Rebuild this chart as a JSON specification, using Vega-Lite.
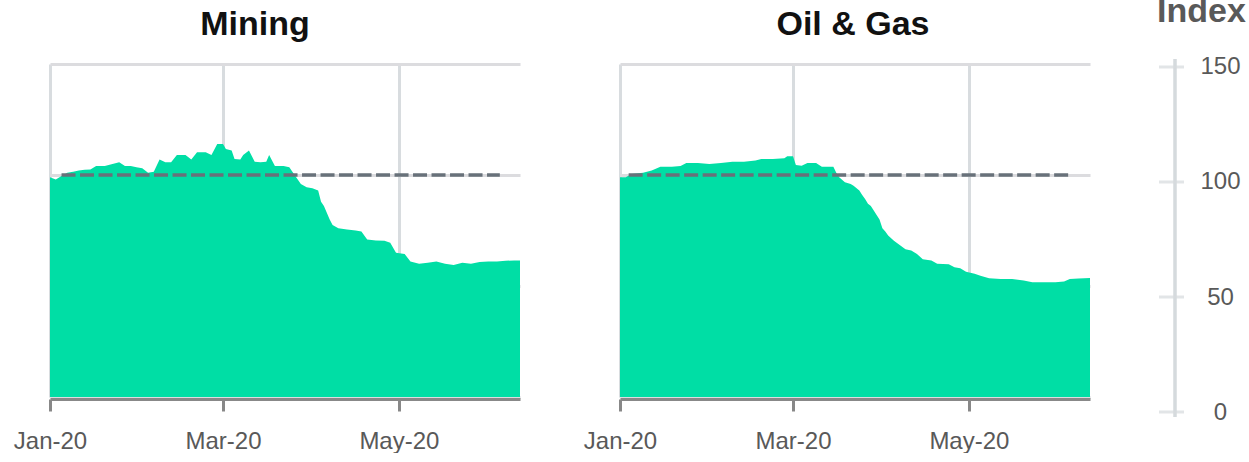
{
  "$schema": "https://vega.github.io/schema/vega-lite/v6.json",
  "background": "white",
  "padding": {"left": 13, "top": -6, "right": 0, "bottom": 0},
  "bounds": "flush",
  "spacing": 100,
  "config": {
    "view": {"stroke": null},
    "font": "Liberation Sans"
  },
  "datasets": {
    "series": [
      {"sector": "Mining", "date": "2020-01-01", "index": 99},
      {"sector": "Mining", "date": "2020-01-03", "index": 98},
      {"sector": "Mining", "date": "2020-01-05", "index": 99.5},
      {"sector": "Mining", "date": "2020-01-07", "index": 101},
      {"sector": "Mining", "date": "2020-01-09", "index": 101.5},
      {"sector": "Mining", "date": "2020-01-11", "index": 102},
      {"sector": "Mining", "date": "2020-01-13", "index": 102.4},
      {"sector": "Mining", "date": "2020-01-15", "index": 102.5},
      {"sector": "Mining", "date": "2020-01-17", "index": 104},
      {"sector": "Mining", "date": "2020-01-20", "index": 104},
      {"sector": "Mining", "date": "2020-01-22", "index": 104.7},
      {"sector": "Mining", "date": "2020-01-25", "index": 105.7},
      {"sector": "Mining", "date": "2020-01-27", "index": 104},
      {"sector": "Mining", "date": "2020-01-29", "index": 104},
      {"sector": "Mining", "date": "2020-01-31", "index": 103.5},
      {"sector": "Mining", "date": "2020-02-02", "index": 103},
      {"sector": "Mining", "date": "2020-02-04", "index": 101},
      {"sector": "Mining", "date": "2020-02-06", "index": 101.5},
      {"sector": "Mining", "date": "2020-02-08", "index": 107},
      {"sector": "Mining", "date": "2020-02-10", "index": 105.7},
      {"sector": "Mining", "date": "2020-02-12", "index": 105.7},
      {"sector": "Mining", "date": "2020-02-14", "index": 109},
      {"sector": "Mining", "date": "2020-02-17", "index": 109},
      {"sector": "Mining", "date": "2020-02-19", "index": 107},
      {"sector": "Mining", "date": "2020-02-21", "index": 110.2},
      {"sector": "Mining", "date": "2020-02-24", "index": 110.2},
      {"sector": "Mining", "date": "2020-02-26", "index": 109},
      {"sector": "Mining", "date": "2020-02-28", "index": 114},
      {"sector": "Mining", "date": "2020-03-01", "index": 114},
      {"sector": "Mining", "date": "2020-03-02", "index": 111.7},
      {"sector": "Mining", "date": "2020-03-04", "index": 111},
      {"sector": "Mining", "date": "2020-03-05", "index": 107.2},
      {"sector": "Mining", "date": "2020-03-07", "index": 107},
      {"sector": "Mining", "date": "2020-03-08", "index": 109},
      {"sector": "Mining", "date": "2020-03-10", "index": 111},
      {"sector": "Mining", "date": "2020-03-12", "index": 106},
      {"sector": "Mining", "date": "2020-03-14", "index": 105.7},
      {"sector": "Mining", "date": "2020-03-16", "index": 106},
      {"sector": "Mining", "date": "2020-03-17", "index": 109},
      {"sector": "Mining", "date": "2020-03-19", "index": 104},
      {"sector": "Mining", "date": "2020-03-22", "index": 104},
      {"sector": "Mining", "date": "2020-03-24", "index": 103.5},
      {"sector": "Mining", "date": "2020-03-26", "index": 99.7},
      {"sector": "Mining", "date": "2020-03-28", "index": 96},
      {"sector": "Mining", "date": "2020-03-30", "index": 94.5},
      {"sector": "Mining", "date": "2020-04-01", "index": 94},
      {"sector": "Mining", "date": "2020-04-03", "index": 93},
      {"sector": "Mining", "date": "2020-04-04", "index": 88},
      {"sector": "Mining", "date": "2020-04-05", "index": 86},
      {"sector": "Mining", "date": "2020-04-06", "index": 83},
      {"sector": "Mining", "date": "2020-04-07", "index": 80},
      {"sector": "Mining", "date": "2020-04-08", "index": 77.5},
      {"sector": "Mining", "date": "2020-04-10", "index": 76},
      {"sector": "Mining", "date": "2020-04-13", "index": 75.5},
      {"sector": "Mining", "date": "2020-04-16", "index": 75},
      {"sector": "Mining", "date": "2020-04-18", "index": 74.5},
      {"sector": "Mining", "date": "2020-04-20", "index": 71},
      {"sector": "Mining", "date": "2020-04-23", "index": 70.5},
      {"sector": "Mining", "date": "2020-04-26", "index": 70.4},
      {"sector": "Mining", "date": "2020-04-28", "index": 69.5},
      {"sector": "Mining", "date": "2020-04-30", "index": 65},
      {"sector": "Mining", "date": "2020-05-03", "index": 64.4},
      {"sector": "Mining", "date": "2020-05-05", "index": 61},
      {"sector": "Mining", "date": "2020-05-08", "index": 60},
      {"sector": "Mining", "date": "2020-05-11", "index": 60.5},
      {"sector": "Mining", "date": "2020-05-14", "index": 61},
      {"sector": "Mining", "date": "2020-05-17", "index": 60},
      {"sector": "Mining", "date": "2020-05-20", "index": 59.5},
      {"sector": "Mining", "date": "2020-05-23", "index": 60.5},
      {"sector": "Mining", "date": "2020-05-26", "index": 60},
      {"sector": "Mining", "date": "2020-05-29", "index": 60.8},
      {"sector": "Mining", "date": "2020-06-01", "index": 61},
      {"sector": "Mining", "date": "2020-06-04", "index": 61},
      {"sector": "Mining", "date": "2020-06-07", "index": 61.4},
      {"sector": "Mining", "date": "2020-06-10", "index": 61.5},
      {"sector": "Mining", "date": "2020-06-12", "index": 61.5},
      {"sector": "Oil & Gas", "date": "2020-01-01", "index": 99},
      {"sector": "Oil & Gas", "date": "2020-01-03", "index": 99},
      {"sector": "Oil & Gas", "date": "2020-01-05", "index": 100.5},
      {"sector": "Oil & Gas", "date": "2020-01-09", "index": 101},
      {"sector": "Oil & Gas", "date": "2020-01-12", "index": 102},
      {"sector": "Oil & Gas", "date": "2020-01-15", "index": 103.7},
      {"sector": "Oil & Gas", "date": "2020-01-19", "index": 103.7},
      {"sector": "Oil & Gas", "date": "2020-01-22", "index": 104},
      {"sector": "Oil & Gas", "date": "2020-01-24", "index": 105.4},
      {"sector": "Oil & Gas", "date": "2020-01-28", "index": 105.4},
      {"sector": "Oil & Gas", "date": "2020-02-01", "index": 105},
      {"sector": "Oil & Gas", "date": "2020-02-05", "index": 105.4},
      {"sector": "Oil & Gas", "date": "2020-02-09", "index": 106},
      {"sector": "Oil & Gas", "date": "2020-02-13", "index": 106},
      {"sector": "Oil & Gas", "date": "2020-02-17", "index": 106.5},
      {"sector": "Oil & Gas", "date": "2020-02-19", "index": 107.2},
      {"sector": "Oil & Gas", "date": "2020-02-23", "index": 107.2},
      {"sector": "Oil & Gas", "date": "2020-02-27", "index": 107.5},
      {"sector": "Oil & Gas", "date": "2020-02-28", "index": 108.5},
      {"sector": "Oil & Gas", "date": "2020-03-01", "index": 108.5},
      {"sector": "Oil & Gas", "date": "2020-03-02", "index": 104.5},
      {"sector": "Oil & Gas", "date": "2020-03-04", "index": 104.2},
      {"sector": "Oil & Gas", "date": "2020-03-06", "index": 105.4},
      {"sector": "Oil & Gas", "date": "2020-03-09", "index": 105.4},
      {"sector": "Oil & Gas", "date": "2020-03-11", "index": 103.7},
      {"sector": "Oil & Gas", "date": "2020-03-15", "index": 103.7},
      {"sector": "Oil & Gas", "date": "2020-03-16", "index": 101},
      {"sector": "Oil & Gas", "date": "2020-03-17", "index": 99},
      {"sector": "Oil & Gas", "date": "2020-03-19", "index": 96.7},
      {"sector": "Oil & Gas", "date": "2020-03-21", "index": 96},
      {"sector": "Oil & Gas", "date": "2020-03-22", "index": 95.2},
      {"sector": "Oil & Gas", "date": "2020-03-24", "index": 93},
      {"sector": "Oil & Gas", "date": "2020-03-25", "index": 91},
      {"sector": "Oil & Gas", "date": "2020-03-26", "index": 89.2},
      {"sector": "Oil & Gas", "date": "2020-03-27", "index": 87},
      {"sector": "Oil & Gas", "date": "2020-03-28", "index": 86},
      {"sector": "Oil & Gas", "date": "2020-03-29", "index": 84},
      {"sector": "Oil & Gas", "date": "2020-03-30", "index": 82},
      {"sector": "Oil & Gas", "date": "2020-03-31", "index": 80},
      {"sector": "Oil & Gas", "date": "2020-04-01", "index": 76},
      {"sector": "Oil & Gas", "date": "2020-04-02", "index": 74.5},
      {"sector": "Oil & Gas", "date": "2020-04-03", "index": 72.7},
      {"sector": "Oil & Gas", "date": "2020-04-05", "index": 70.4},
      {"sector": "Oil & Gas", "date": "2020-04-07", "index": 68.5},
      {"sector": "Oil & Gas", "date": "2020-04-09", "index": 66.5},
      {"sector": "Oil & Gas", "date": "2020-04-11", "index": 66},
      {"sector": "Oil & Gas", "date": "2020-04-13", "index": 64.4},
      {"sector": "Oil & Gas", "date": "2020-04-15", "index": 62},
      {"sector": "Oil & Gas", "date": "2020-04-18", "index": 61.5},
      {"sector": "Oil & Gas", "date": "2020-04-20", "index": 60},
      {"sector": "Oil & Gas", "date": "2020-04-24", "index": 59.8},
      {"sector": "Oil & Gas", "date": "2020-04-26", "index": 58.4},
      {"sector": "Oil & Gas", "date": "2020-04-28", "index": 58},
      {"sector": "Oil & Gas", "date": "2020-04-30", "index": 56.4},
      {"sector": "Oil & Gas", "date": "2020-05-03", "index": 55.5},
      {"sector": "Oil & Gas", "date": "2020-05-05", "index": 54.6},
      {"sector": "Oil & Gas", "date": "2020-05-08", "index": 53.5},
      {"sector": "Oil & Gas", "date": "2020-05-12", "index": 53.2},
      {"sector": "Oil & Gas", "date": "2020-05-16", "index": 53.2},
      {"sector": "Oil & Gas", "date": "2020-05-20", "index": 52.5},
      {"sector": "Oil & Gas", "date": "2020-05-23", "index": 51.7},
      {"sector": "Oil & Gas", "date": "2020-05-27", "index": 51.7},
      {"sector": "Oil & Gas", "date": "2020-05-31", "index": 51.7},
      {"sector": "Oil & Gas", "date": "2020-06-03", "index": 52},
      {"sector": "Oil & Gas", "date": "2020-06-05", "index": 53.2},
      {"sector": "Oil & Gas", "date": "2020-06-08", "index": 53.4},
      {"sector": "Oil & Gas", "date": "2020-06-12", "index": 53.6}
    ],
    "refline": [
      {"sector": "Mining", "start": "2020-01-05", "end": "2020-06-05", "level": 100},
      {"sector": "Oil & Gas", "start": "2020-01-04", "end": "2020-06-05", "level": 100}
    ],
    "axisline": [{"lo": -2.17, "hi": 153.5}],
    "axisticks": [{"v": 0}, {"v": 50}, {"v": 100}, {"v": 150}]
  },
  "hconcat": [
    {
      "width": 470,
      "height": 333,
      "title": {"text": "Mining", "fontSize": 34, "fontWeight": "bold", "color": "#111111", "baseline": "alphabetic", "offset": -5, "dx": -30, "anchor": "middle", "frame": "group"},
      "layer": [
        {
          "data": {"name": "series"},
          "transform": [{"filter": "datum.sector === 'Mining'"}],
          "mark": {"type": "area", "color": "#00dea5"},
          "encoding": {
            "x": {"field": "date", "type": "temporal",
              "scale": {"type": "utc", "domain": ["2020-01-01", "2020-06-12"]},
              "axis": {"values": ["2020-01-01", "2020-03-01", "2020-05-01"],
                "format": "%b-%y", "title": null, "labelFontSize": 24, "labelColor": "#595959", "labelPadding": 18, "labelFlush": false, "labelOverlap": false,
                "offset": 2, "tickSize": 12, "tickColor": "#888888", "tickWidth": 3, "domainColor": "#888888", "domainWidth": 3,
                "grid": true, "gridColor": "#d8dcdf", "gridWidth": 3}},
            "y": {"field": "index", "type": "quantitative",
              "scale": {"domain": [0, 150], "nice": false},
              "axis": {"values": [0, 50, 100, 150], "grid": true, "gridColor": "#dcdcdf", "gridWidth": 3, "domain": false, "ticks": false, "labels": false, "title": null}}
          }
        },
        {
          "data": {"name": "refline"},
          "transform": [{"filter": "datum.sector === 'Mining'"}],
          "mark": {"type": "rule", "color": "#68717a", "strokeWidth": 3.5, "strokeDash": [14, 4.5]},
          "encoding": {
            "x": {"field": "start", "type": "temporal"},
            "x2": {"field": "end"},
            "y": {"field": "level", "type": "quantitative"}
          }
        }
      ]
    },
    {
      "width": 470,
      "height": 333,
      "title": {"text": "Oil & Gas", "fontSize": 34, "fontWeight": "bold", "color": "#111111", "baseline": "alphabetic", "offset": -5, "dx": -2, "anchor": "middle", "frame": "group"},
      "layer": [
        {
          "data": {"name": "series"},
          "transform": [{"filter": "datum.sector === 'Oil & Gas'"}],
          "mark": {"type": "area", "color": "#00dea5"},
          "encoding": {
            "x": {"field": "date", "type": "temporal",
              "scale": {"type": "utc", "domain": ["2020-01-01", "2020-06-12"]},
              "axis": {"values": ["2020-01-01", "2020-03-01", "2020-05-01"],
                "format": "%b-%y", "title": null, "labelFontSize": 24, "labelColor": "#595959", "labelPadding": 18, "labelFlush": false, "labelOverlap": false,
                "offset": 2, "tickSize": 12, "tickColor": "#888888", "tickWidth": 3, "domainColor": "#888888", "domainWidth": 3,
                "grid": true, "gridColor": "#d8dcdf", "gridWidth": 3}},
            "y": {"field": "index", "type": "quantitative",
              "scale": {"domain": [0, 150], "nice": false},
              "axis": {"values": [0, 50, 100, 150], "grid": true, "gridColor": "#dcdcdf", "gridWidth": 3, "domain": false, "ticks": false, "labels": false, "title": null}}
          }
        },
        {
          "data": {"name": "refline"},
          "transform": [{"filter": "datum.sector === 'Oil & Gas'"}],
          "mark": {"type": "rule", "color": "#68717a", "strokeWidth": 3.5, "strokeDash": [14, 4.5]},
          "encoding": {
            "x": {"field": "start", "type": "temporal"},
            "x2": {"field": "end"},
            "y": {"field": "level", "type": "quantitative"}
          }
        }
      ]
    },
    {
      "width": 1,
      "height": 353,
      "layer": [
        {
          "data": {"name": "axisline"},
          "mark": {"type": "rule", "color": "#d5dadd", "strokeWidth": 3.5, "xOffset": -15.5},
          "encoding": {
            "y": {"field": "lo", "type": "quantitative",
              "scale": {"domain": [-2.17, 151.3], "nice": false, "zero": false},
              "axis": {"orient": "right", "offset": -16, "values": [0, 50, 100, 150], "domain": false, "ticks": false, "tickSize": 0, "grid": false,
                "labelPadding": 45, "labelAlign": "center", "labelFontSize": 24, "labelColor": "#595959",
                "title": "Index", "titleAngle": 0, "titleFontSize": 34, "titleFontWeight": "bold", "titleColor": "#595959",
                "titleX": 26, "titleY": -43, "titleAlign": "center", "titleBaseline": "alphabetic"}},
            "y2": {"field": "hi"}
          }
        },
        {
          "data": {"name": "axisticks"},
          "mark": {"type": "tick", "color": "#d5dadd", "thickness": 3, "size": 25, "xOffset": -19},
          "encoding": {
            "y": {"field": "v", "type": "quantitative"}
          }
        }
      ]
    }
  ]
}
